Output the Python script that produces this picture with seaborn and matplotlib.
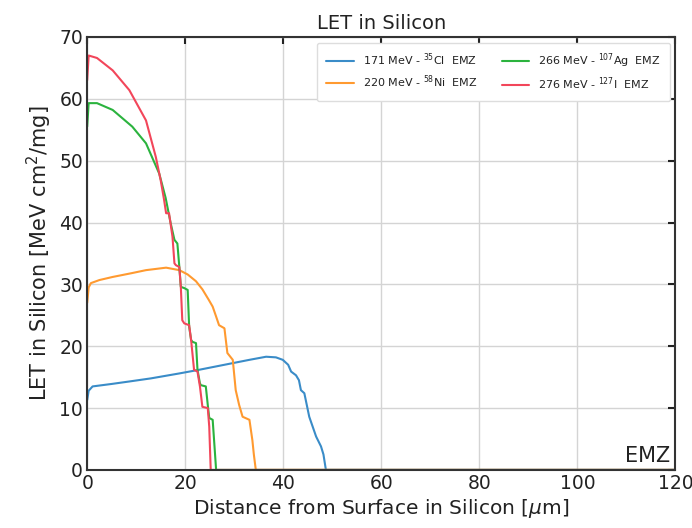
import numpy as np
import pandas as pd
import seaborn as sns
import matplotlib
matplotlib.use('Agg')
import matplotlib.pyplot as plt

cl_x = [0, 0.3, 1.1, 5, 8.6, 13, 18.8, 22.9, 28, 33.1, 36.5, 38.5, 39.9, 41, 41.6, 42.6,
        43.2, 43.6, 44.3, 44.8, 45.3, 46, 46.7, 47.7, 48.2, 48.7, 120]
cl_y = [11.3, 12.8, 13.5, 13.9, 14.3, 14.8, 15.6, 16.2, 17.0, 17.8, 18.3, 18.2, 17.8, 17.0, 15.9, 15.3,
        14.5, 12.9, 12.4, 10.5, 8.6, 7.0, 5.4, 3.8, 2.5, 0, 0]

ni_x = [0, 0.3, 0.75, 2.5, 5.2, 9, 12, 16.1, 18.8, 20.5, 22.2, 23.5, 24.8, 25.6, 26.3, 26.9,
        28.0, 28.6, 29.7, 30.3, 31.0, 31.7, 33.1, 33.7, 34.0, 34.4, 120]
ni_y = [27.0, 29.5, 30.2, 30.7, 31.2, 31.8, 32.3, 32.7, 32.3, 31.6, 30.5, 29.2, 27.5, 26.4, 24.8, 23.4,
        22.9, 18.9, 17.8, 12.9, 10.5, 8.6, 8.1, 4.8, 2.5, 0, 0]

ag_x = [0, 0.3, 2, 5.2, 9.2, 12, 14.7, 16.0, 17.0, 17.8, 18.4, 18.8, 19.1, 19.8, 20.5, 20.8,
        21.2, 21.5, 22.2, 22.5, 23.0, 23.2, 24.2, 24.6, 24.9, 25.6, 26.0, 26.3, 120]
ag_y = [55.5, 59.3, 59.3, 58.2, 55.5, 52.8, 47.9, 44.0, 40.0, 37.2, 36.6, 32.8, 29.6, 29.4, 29.1, 23.2,
        21.0, 20.7, 20.5, 16.2, 14.0, 13.7, 13.5, 10.5, 8.4, 8.1, 3.5, 0, 0]

i_x = [0, 0.3, 2, 5.2, 8.6, 12, 14, 15.0, 15.7, 16.1, 16.7, 17.4, 17.8, 18.1, 18.8, 19.1,
       19.4, 19.8, 20.8, 21.2, 21.8, 22.5, 23.0, 23.5, 24.6, 24.9, 25.2, 120]
i_y = [63.0, 67.0, 66.6, 64.6, 61.4, 56.5, 50.6, 46.8, 43.6, 41.5, 41.5, 37.7, 33.4, 33.1, 32.8, 29.6,
       24.2, 23.7, 23.4, 21.0, 16.2, 15.9, 13.5, 10.2, 10.0, 7.0, 0, 0]

labels = ['171 MeV - $^{35}$Cl  EMZ', '220 MeV - $^{58}$Ni  EMZ',
          '266 MeV - $^{107}$Ag  EMZ', '276 MeV - $^{127}$I  EMZ']
colors = ['#3a8cc8', '#ff9a30', '#2bb33e', '#f2465a']

frames = []
for lab, xs, ys in zip(labels, [cl_x, ni_x, ag_x, i_x], [cl_y, ni_y, ag_y, i_y]):
    frames.append(pd.DataFrame({'depth': xs, 'let': ys, 'ion': lab}))
df = pd.concat(frames, ignore_index=True)

sns.set_style('white')
plt.rcParams['font.family'] = ['DejaVu Sans']
plt.rcParams['text.color'] = '#222222'

fig = plt.figure(figsize=(6.92, 5.28), dpi=100)
ax = fig.add_axes([0.126, 0.11, 0.85, 0.82])

sns.lineplot(data=df, x='depth', y='let', hue='ion', palette=colors,
             estimator=None, sort=False, linewidth=1.5, ax=ax)

ax.set_xlim(0, 120)
ax.set_ylim(0, 70)
ax.set_xticks(np.arange(0, 121, 20))
ax.set_yticks(np.arange(0, 71, 10))
ax.grid(True, color='#d4d4d4', linewidth=1)
ax.tick_params(direction='in', top=True, right=True, length=5, width=1.5,
               labelsize=13.5, colors='#222222', pad=3)
for s in ax.spines.values():
    s.set_color('#333333')
    s.set_linewidth(1.5)

ax.set_title('LET in Silicon', fontsize=14, color='#222222')
ax.set_xlabel('Distance from Surface in Silicon [$\\mu$m]', fontsize=14.5, color='#222222', labelpad=3)
ax.set_ylabel('LET in Silicon [MeV cm$^2$/mg]', fontsize=15, color='#222222', labelpad=4)
ax.text(0.992, 0.01, 'EMZ', transform=ax.transAxes, ha='right', va='bottom', fontsize=15)

ax.legend(ncol=2, loc='upper right', fontsize=8, columnspacing=2.2,
          handlelength=2.5, borderpad=0.8, framealpha=1, edgecolor='#dddddd')

fig.savefig('out.png', dpi=100)
